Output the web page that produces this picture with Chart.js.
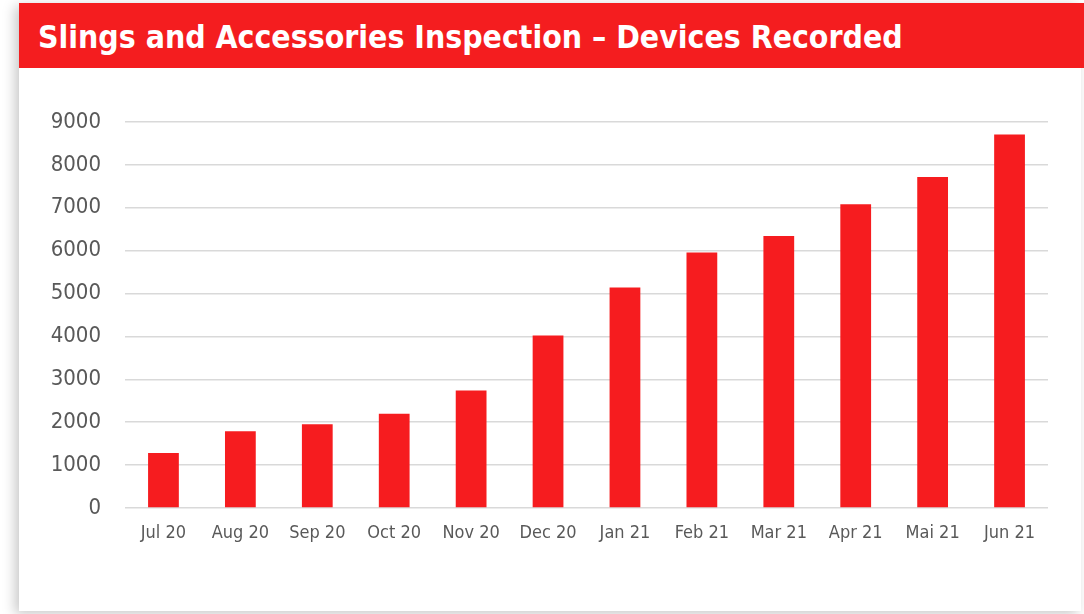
<!DOCTYPE html>
<html>
<head>
<meta charset="utf-8">
<script src="https://cdn.jsdelivr.net/npm/chart.js@4"></script>
<style>
  html, body { margin: 0; padding: 0; background: #fff; }
  body { width: 1084px; height: 614px; position: relative; overflow: hidden; }
  .panel {
    position: absolute; left: 19px; top: 3px; width: 1062px; height: 608px;
    background: #fff; box-shadow: -4px 3px 12px rgba(0,0,0,0.22);
  }
  .header {
    position: absolute; left: 19px; top: 3px; width: 1065px; height: 65px;
    background: #f41d1f;
    color: #fff; font-family: "DejaVu Sans Condensed", "DejaVu Sans", sans-serif;
    font-weight: bold; font-size: 31.7px; line-height: 68px;
    padding-left: 19px; box-sizing: border-box; white-space: nowrap;
  }
  .chart-box { position: absolute; left: 19px; top: 68px; width: 1061px; height: 543px; }
</style>
</head>
<body>
<div class="panel"></div>
<div class="header">Slings and Accessories Inspection – Devices Recorded</div>
<div class="chart-box"><canvas id="chart" width="1061" height="543"></canvas></div>
<script>
// Devices recorded per month
const months = ['Jul 20', 'Aug 20', 'Sep 20', 'Oct 20', 'Nov 20', 'Dec 20',
                'Jan 21', 'Feb 21', 'Mar 21', 'Apr 21', 'Mai 21', 'Jun 21'];
const devices = [1280, 1790, 1950, 2200, 2740, 4020, 5140, 5960, 6340, 7080, 7720, 8710];

const font = '"DejaVu Sans Condensed", "DejaVu Sans", sans-serif';

new Chart(document.getElementById('chart'), {
    type: 'bar',
    data: {
        labels: months,
        datasets: [{
            label: 'Devices Recorded',
            data: devices,
            backgroundColor: '#f61c1f',
            borderWidth: 0,
            categoryPercentage: 1,
            barPercentage: 0.4
        }]
    },
    options: {
        responsive: false,
        animation: false,
        layout: { padding: { top: 54, right: 32, left: 0, bottom: 0 } },
        plugins: { legend: { display: false }, tooltip: { enabled: false } },
        scales: {
            x: {
                grid: { display: false, drawTicks: false },
                border: { display: false },
                ticks: { color: '#595959', font: { family: font, size: 18 }, padding: 15, maxRotation: 0, autoSkip: false },
                afterFit: (s) => { s.height = 103; }
            },
            y: {
                min: 0, max: 9000,
                grid: { color: '#d9d9d9', lineWidth: 1.5, drawTicks: false },
                border: { display: false },
                ticks: {
                    stepSize: 1000, color: '#595959', font: { family: font, size: 22 }, padding: 24,
                    callback: (value) => String(value)  // no thousands separator
                },
                afterFit: (s) => { s.width = 106; }
            }
        }
    }
});
</script>
</body>
</html>
